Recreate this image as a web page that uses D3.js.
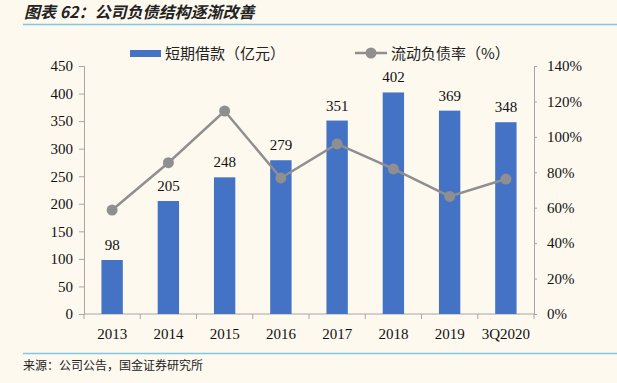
<!DOCTYPE html>
<html>
<head>
<meta charset="utf-8">
<script src="https://cdn.jsdelivr.net/npm/d3@7"></script>
<style>
  body { margin: 0; background: #fdf9ef; }
  svg { display: block; }
</style>
</head>
<body>
<svg id="chart" width="617" height="383"></svg>
<script>
// chart data
const years = ["2013", "2014", "2015", "2016", "2017", "2018", "2019", "3Q2020"];
const loans = [98, 205, 248, 279, 351, 402, 369, 348];       // 短期借款（亿元）
const ratio = [58.7, 85.4, 114.6, 76.8, 96, 81.9, 66.4, 76.2]; // 流动负债率（%）
const leftTicks = [0, 50, 100, 150, 200, 250, 300, 350, 400, 450];
const rightTicks = [0, 20, 40, 60, 80, 100, 120, 140];

const svg = d3.select("#chart");
const cjk = "'Noto Sans CJK SC', sans-serif";
const serif = "'Liberation Serif', 'Times New Roman', serif";

svg.append("rect").attr("width", 617).attr("height", 383).attr("fill", "#fdf9ef");

// title + rules
svg.append("text")
    .attr("x", 24).attr("y", 18)
    .attr("font-family", cjk).attr("font-size", 16).attr("font-weight", "bold")
    .attr("font-style", "italic").attr("fill", "#222")
    .text("图表 62：公司负债结构逐渐改善");
svg.append("line").attr("x1", 23).attr("x2", 617).attr("y1", 24.5).attr("y2", 24.5)
    .attr("stroke", "#7ec8e8").attr("stroke-width", 1.5);
svg.append("line").attr("x1", 23).attr("x2", 617).attr("y1", 353.5).attr("y2", 353.5)
    .attr("stroke", "#7ec8e8").attr("stroke-width", 1.5);
svg.append("text")
    .attr("x", 23).attr("y", 370)
    .attr("font-family", cjk).attr("font-size", 12).attr("fill", "#222")
    .text("来源：公司公告，国金证券研究所");

// scales
let x = d3.scaleBand().domain(years).range([84, 534]).paddingInner(0.62).paddingOuter(0.31);
let y = d3.scaleLinear().domain([0, 450]).range([314, 66]);
let y2 = d3.scaleLinear().domain([0, 140]).range([314, 66]);

const axisColor = "#a6a6a6";

// left axis
let gl = svg.append("g").attr("transform", "translate(84,0)")
    .call(d3.axisLeft(y).tickValues(leftTicks).tickSize(5).tickPadding(6));
// right axis
let gr = svg.append("g").attr("transform", "translate(534,0)")
    .call(d3.axisRight(y2).tickValues(rightTicks).tickSize(3).tickPadding(10).tickFormat(d => d + "%"));
[gl, gr].forEach(g => {
  g.select(".domain").attr("stroke", axisColor);
  g.selectAll(".tick line").attr("stroke", axisColor);
  g.selectAll("text").attr("font-family", serif).attr("font-size", 15).attr("fill", "#111");
});

// x axis
let gx = svg.append("g").attr("transform", "translate(0,314)");
gx.append("line").attr("x1", 84).attr("x2", 534).attr("stroke", axisColor);
let step = x.step();
gx.selectAll(".sep").data(d3.range(years.length + 1)).enter().append("line")
    .attr("x1", i => 84 + i * step).attr("x2", i => 84 + i * step)
    .attr("y1", 0).attr("y2", 5).attr("stroke", axisColor);
gx.selectAll(".lab").data(years).enter().append("text")
    .attr("x", d => x(d) + x.bandwidth() / 2).attr("y", 25)
    .attr("text-anchor", "middle")
    .attr("font-family", serif).attr("font-size", 15).attr("fill", "#111")
    .text(d => d);

// bars
svg.selectAll(".bar").data(loans).enter().append("rect")
    .attr("x", (d, i) => x(years[i]))
    .attr("y", d => y(d))
    .attr("width", x.bandwidth())
    .attr("height", d => y(0) - y(d))
    .attr("fill", "#4472c4");

svg.selectAll(".barlab").data(loans).enter().append("text")
    .attr("x", (d, i) => x(years[i]) + x.bandwidth() / 2)
    .attr("y", d => y(d) - 10)
    .attr("text-anchor", "middle")
    .attr("font-family", serif).attr("font-size", 15).attr("fill", "#111")
    .text(d => d);

// ratio line
let line = d3.line()
    .x((d, i) => x(years[i]) + x.bandwidth() / 2)
    .y(d => y2(d));
svg.append("path").datum(ratio)
    .attr("d", line).attr("fill", "none")
    .attr("stroke", "#8f8f8f").attr("stroke-width", 2.5);
svg.selectAll(".dot").data(ratio).enter().append("circle")
    .attr("cx", (d, i) => x(years[i]) + x.bandwidth() / 2)
    .attr("cy", d => y2(d))
    .attr("r", 5.5).attr("fill", "#8f8f8f");

// legend
let lg = svg.append("g");
lg.append("rect").attr("x", 130).attr("y", 50).attr("width", 31).attr("height", 7).attr("fill", "#4472c4");
lg.append("text").attr("x", 165).attr("y", 59)
    .attr("font-family", cjk).attr("font-size", 15).attr("fill", "#222")
    .text("短期借款（亿元）");
lg.append("line").attr("x1", 355).attr("x2", 387).attr("y1", 53).attr("y2", 53)
    .attr("stroke", "#8f8f8f").attr("stroke-width", 2.5);
lg.append("circle").attr("cx", 371).attr("cy", 53).attr("r", 5.5).attr("fill", "#8f8f8f");
lg.append("text").attr("x", 391).attr("y", 59)
    .attr("font-family", cjk).attr("font-size", 15).attr("fill", "#222")
    .text("流动负债率（%）");
</script>
</body>
</html>
